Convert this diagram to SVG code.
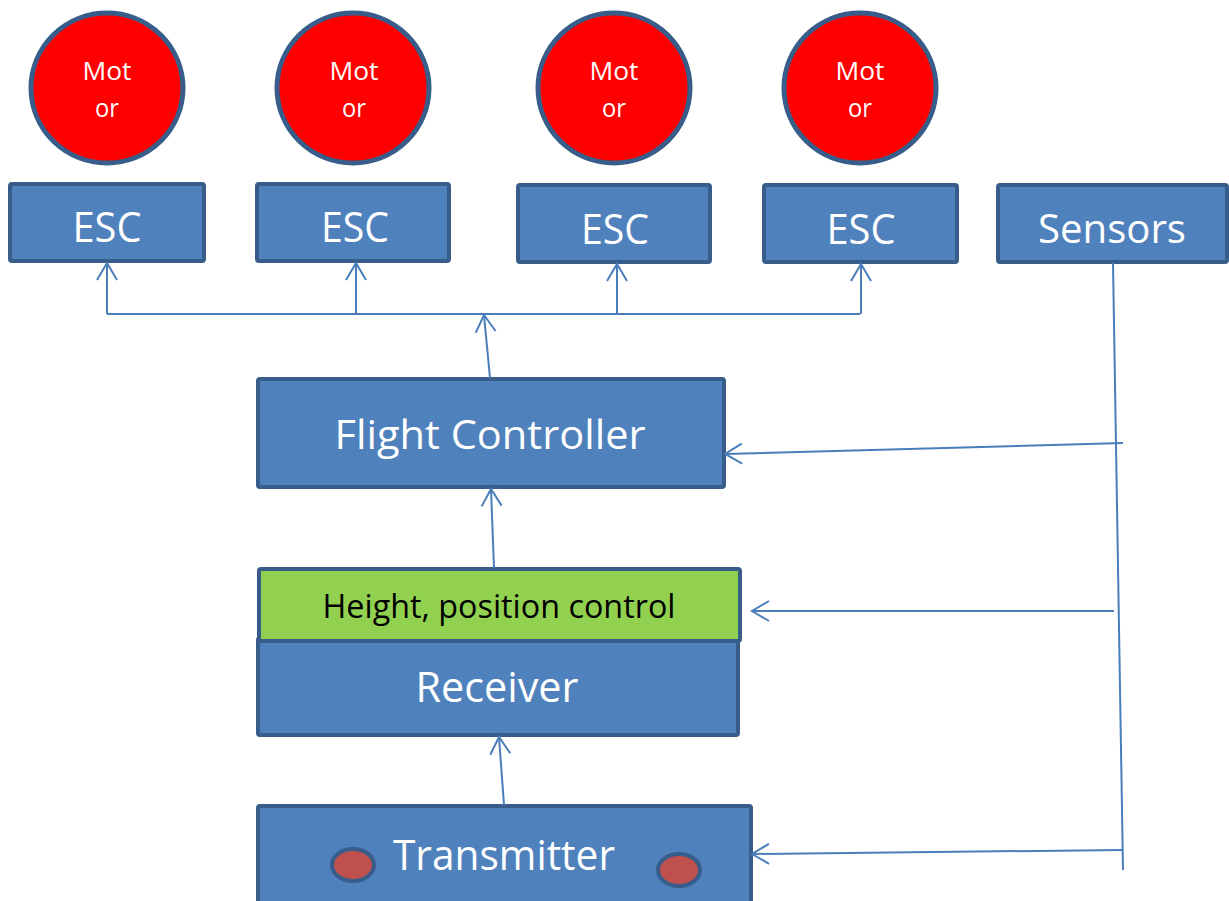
<svg xmlns="http://www.w3.org/2000/svg" width="1229" height="901" viewBox="0 0 1229 901">
  <style>
    .box { fill: #4F81BD; stroke: #385D8A; stroke-width: 4; }
    .green { fill: #92D050; stroke: #385D8A; stroke-width: 4; }
    .motor { fill: #FF0000; stroke: #385D8A; stroke-width: 5; }
    .led { fill: #C0504D; stroke: #385D8A; stroke-width: 4; }
    .lbl { font-family: "Open Sans", "Liberation Sans", sans-serif; fill: #FFFFFF; text-anchor: middle; }
    .dark { fill: #000000; }
    .wire { fill: none; stroke: #4A7EBB; stroke-width: 2; }
    .arr { marker-end: url(#open); }
  </style>
  <defs>
    <marker id="open" markerUnits="userSpaceOnUse" viewBox="-20 -12 22 24" refX="0" refY="0" markerWidth="22" markerHeight="24" orient="auto" overflow="visible">
      <path d="M-17,-10 L0,0 L-17,10" fill="none" stroke="#4A7EBB" stroke-width="2"/>
    </marker>
  </defs>
  <rect width="1229" height="901" fill="#FFFFFF"/>

  <!-- motors -->
  <g id="motor1">
    <ellipse class="motor" cx="107" cy="88" rx="76" ry="75"/>
    <text class="lbl" x="107" y="80" font-size="25" textLength="49" lengthAdjust="spacingAndGlyphs">Mot</text>
    <text class="lbl" x="107" y="117" font-size="25" textLength="24" lengthAdjust="spacingAndGlyphs">or</text>
  </g>
  <g id="motor2">
    <ellipse class="motor" cx="353" cy="88" rx="76" ry="75"/>
    <text class="lbl" x="354" y="80" font-size="25" textLength="49" lengthAdjust="spacingAndGlyphs">Mot</text>
    <text class="lbl" x="354" y="117" font-size="25" textLength="24" lengthAdjust="spacingAndGlyphs">or</text>
  </g>
  <g id="motor3">
    <ellipse class="motor" cx="614" cy="88" rx="76" ry="75"/>
    <text class="lbl" x="614" y="80" font-size="25" textLength="49" lengthAdjust="spacingAndGlyphs">Mot</text>
    <text class="lbl" x="614" y="117" font-size="25" textLength="24" lengthAdjust="spacingAndGlyphs">or</text>
  </g>
  <g id="motor4">
    <ellipse class="motor" cx="860" cy="88" rx="76" ry="75"/>
    <text class="lbl" x="860" y="80" font-size="25" textLength="49" lengthAdjust="spacingAndGlyphs">Mot</text>
    <text class="lbl" x="860" y="117" font-size="25" textLength="24" lengthAdjust="spacingAndGlyphs">or</text>
  </g>

  <!-- speed controllers -->
  <g id="esc1">
    <rect class="box" x="10" y="184" width="194" height="77" rx="2"/>
    <text class="lbl" x="107" y="242" font-size="42" textLength="69" lengthAdjust="spacingAndGlyphs">ESC</text>
  </g>
  <g id="esc2">
    <rect class="box" x="257" y="184" width="192" height="77" rx="2"/>
    <text class="lbl" x="355" y="242" font-size="42" textLength="68" lengthAdjust="spacingAndGlyphs">ESC</text>
  </g>
  <g id="esc3">
    <rect class="box" x="518" y="185" width="192" height="77" rx="2"/>
    <text class="lbl" x="615" y="244" font-size="42" textLength="68" lengthAdjust="spacingAndGlyphs">ESC</text>
  </g>
  <g id="esc4">
    <rect class="box" x="764" y="185" width="193" height="77" rx="2"/>
    <text class="lbl" x="861" y="244" font-size="42" textLength="69" lengthAdjust="spacingAndGlyphs">ESC</text>
  </g>
  <g id="sensors">
    <rect class="box" x="998" y="185" width="229" height="77" rx="2"/>
    <text class="lbl" x="1112" y="243" font-size="40" textLength="148" lengthAdjust="spacingAndGlyphs">Sensors</text>
  </g>

  <!-- control chain -->
  <g id="flight-controller">
    <rect class="box" x="258" y="379" width="466" height="108" rx="2"/>
    <text class="lbl" x="490" y="449" font-size="41" textLength="311" lengthAdjust="spacingAndGlyphs">Flight Controller</text>
  </g>
  <g id="receiver">
    <rect class="box" x="258" y="638" width="480" height="97" rx="2"/>
    <text class="lbl" x="497" y="702" font-size="42" textLength="163" lengthAdjust="spacingAndGlyphs">Receiver</text>
  </g>
  <g id="height-position-control">
    <rect class="green" x="259" y="569" width="481" height="72" rx="2"/>
    <text class="lbl dark" x="499" y="618" font-size="32" textLength="353" lengthAdjust="spacingAndGlyphs">Height, position control</text>
  </g>
  <g id="transmitter">
    <rect class="box" x="258" y="806" width="493" height="110" rx="2"/>
    <ellipse class="led" cx="353" cy="865" rx="21" ry="16"/>
    <ellipse class="led" cx="679" cy="870" rx="21" ry="16"/>
    <text class="lbl" x="504" y="870" font-size="42" textLength="222" lengthAdjust="spacingAndGlyphs">Transmitter</text>
  </g>

  <!-- connectors -->
  <g id="connectors">
    <polyline class="wire" points="107,314 860,314"/>
    <line class="wire arr" x1="107" y1="314" x2="107" y2="263"/>
    <line class="wire arr" x1="356" y1="314" x2="356" y2="263"/>
    <line class="wire arr" x1="617" y1="314" x2="617" y2="264"/>
    <line class="wire arr" x1="861" y1="314" x2="861" y2="264"/>
    <line class="wire arr" x1="490" y1="378" x2="484" y2="315"/>
    <line class="wire arr" x1="494" y1="568" x2="491" y2="489"/>
    <line class="wire arr" x1="504" y1="805" x2="499" y2="737"/>
    <line class="wire" x1="1113" y1="263" x2="1123" y2="870"/>
    <line class="wire arr" x1="1123" y1="443" x2="725" y2="454"/>
    <line class="wire arr" x1="1114" y1="611" x2="752" y2="611"/>
    <line class="wire arr" x1="1122" y1="850" x2="752" y2="854"/>
  </g>
</svg>
